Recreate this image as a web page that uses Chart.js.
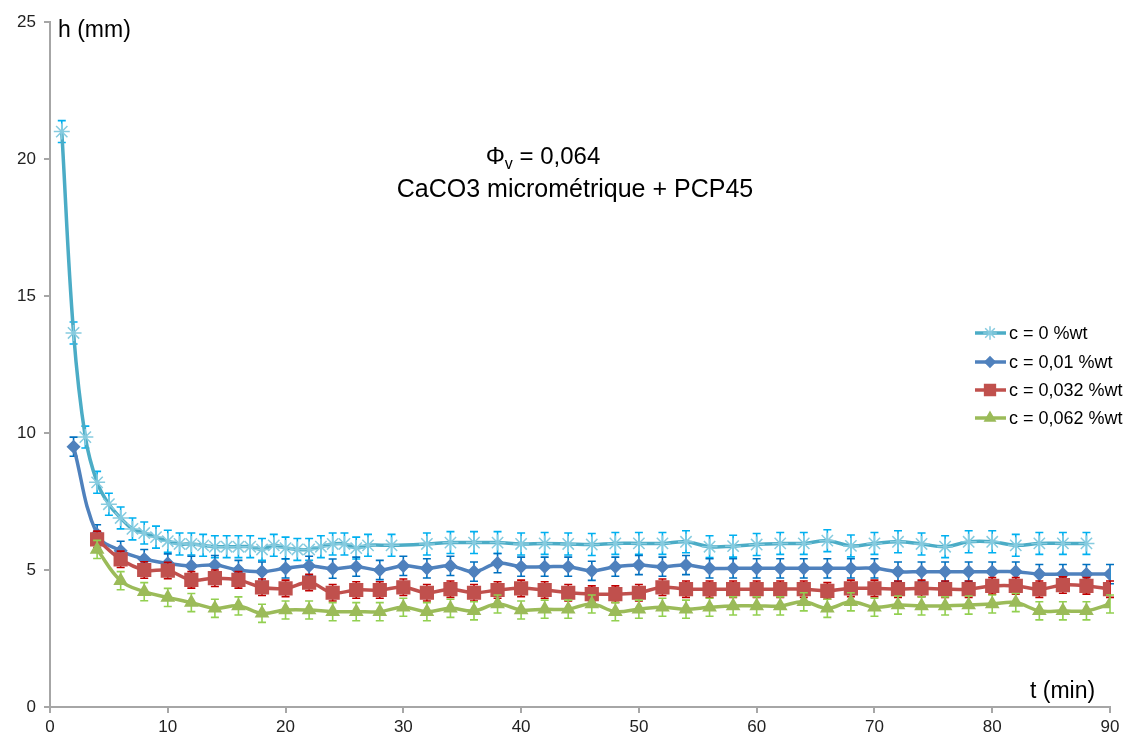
<!DOCTYPE html>
<html>
<head>
<meta charset="utf-8">
<script src="https://cdn.jsdelivr.net/npm/chart.js@4/dist/chart.umd.min.js"></script>
<style>
  html, body { margin: 0; padding: 0; background: #fff; }
  #wrap { width: 1127px; height: 737px; }
</style>
</head>
<body>
<div id="wrap"><canvas id="chart" width="1127" height="737"></canvas></div>
<script>
// time (min) and height (mm) for each series
const tCyan = [1,2,3,4,5,6,7,8,9,10,11,12,13,14,15,16,17,18,19,20,21,22,23,24,25,26,27,29,
  32,34,36,38,40,42,44,46,48,50,52,54,56,58,60,62,64,66,68,70,72,74,76,78,80,82,84,86,88];
const hCyan = [21.0,13.65,9.85,8.2,7.4,6.9,6.5,6.35,6.2,6.05,5.95,5.95,5.9,5.85,5.85,5.85,5.85,5.75,5.9,5.8,5.75,5.75,5.85,5.95,5.95,5.8,5.9,5.9,
  5.95,6.0,6.0,6.0,5.95,5.97,5.95,5.93,5.97,5.97,5.97,6.03,5.85,5.87,5.93,5.97,5.97,6.07,5.88,5.97,6.03,5.95,5.85,6.03,6.03,5.9,5.97,5.97,5.97];

const tBlue = [2,4,6,8,10,12,14,16,18,20,22,24,26,28,30,32,34,36,38,40,42,44,46,48,50,52,54,56,58,60,62,64,66,68,70,72,74,76,78,80,82,84,86,88,90];
const hBlue = [9.5,6.3,5.7,5.4,5.24,5.15,5.18,5.0,4.94,5.06,5.15,5.05,5.12,5.0,5.15,5.06,5.15,4.94,5.25,5.12,5.12,5.12,4.97,5.12,5.18,5.12,5.18,
  5.06,5.06,5.06,5.06,5.06,5.06,5.06,5.06,4.94,4.94,4.94,4.94,4.94,4.94,4.85,4.85,4.85,4.85];

const tRedGreen = [4,6,8,10,12,14,16,18,20,22,24,26,28,30,32,34,36,38,40,42,44,46,48,50,52,54,56,58,60,62,64,66,68,70,72,74,76,78,80,82,84,86,88,90];
const hRed = [6.12,5.39,5.0,4.98,4.64,4.70,4.64,4.37,4.33,4.54,4.17,4.27,4.27,4.37,4.17,4.30,4.17,4.27,
  4.33,4.27,4.17,4.12,4.12,4.17,4.37,4.30,4.30,4.30,4.30,4.30,4.30,4.24,4.33,4.33,4.30,4.33,4.30,4.30,4.42,4.42,4.30,4.45,4.42,4.30];
const hGreen = [5.75,4.61,4.21,4.0,3.81,3.60,3.69,3.42,3.54,3.54,3.48,3.48,3.48,3.64,3.48,3.60,3.51,3.76,
  3.54,3.57,3.57,3.76,3.48,3.57,3.64,3.57,3.64,3.69,3.69,3.69,3.84,3.60,3.84,3.64,3.72,3.69,3.69,3.72,3.76,3.81,3.51,3.51,3.51,3.76];

// error bar half-widths (mm)
const errCyan = 0.4, errBlue = 0.35, errRed = 0.3, errGreen = 0.33;

const labels = ['c = 0 %wt', 'c = 0,01 %wt', 'c = 0,032 %wt', 'c = 0,062 %wt'];
const xTicks = [0, 90, 10];
const yTicks = [0, 25, 5];

const FONT = '"Liberation Sans", Arial, sans-serif';

function pts(t, h) {
  return t.map((v, i) => ({ x: v, y: h[i] }));
}

const series = [
  { label: labels[0], data: pts(tCyan, hCyan), err: errCyan, color: '#4BACC6', errColor: '#00B0F0', markColor: '#86CBDF', style: 'star', r: 8 },
  { label: labels[1], data: pts(tBlue, hBlue), err: errBlue, color: '#4F81BD', errColor: '#0070C0', markColor: '#4F81BD', style: 'rectRot', r: 6 },
  { label: labels[2], data: pts(tRedGreen, hRed), err: errRed, color: '#C0504D', errColor: '#C00000', markColor: '#C0504D', style: 'rect', r: 9 },
  { label: labels[3], data: pts(tRedGreen, hGreen), err: errGreen, color: '#9BBB59', errColor: '#92D050', markColor: '#9BBB59', style: 'triangle', r: 7 }
];

// error bars drawn under each series line
const errorBars = {
  id: 'errorBars',
  beforeDatasetDraw(chart, args) {
    const s = series[args.index];
    const yScale = chart.scales.y;
    const ctx = chart.ctx;
    ctx.save();
    ctx.strokeStyle = s.errColor;
    ctx.lineWidth = 1.6;
    args.meta.data.forEach((p, i) => {
      const v = s.data[i].y;
      const top = yScale.getPixelForValue(v + s.err);
      const bot = yScale.getPixelForValue(v - s.err);
      ctx.beginPath();
      ctx.moveTo(p.x, top); ctx.lineTo(p.x, bot);
      ctx.moveTo(p.x - 4, top); ctx.lineTo(p.x + 4, top);
      ctx.moveTo(p.x - 4, bot); ctx.lineTo(p.x + 4, bot);
      ctx.stroke();
    });
    ctx.restore();
  }
};

// titles, axis names and legend
const annotations = {
  id: 'annotations',
  afterDraw(chart) {
    const ctx = chart.ctx;
    ctx.save();
    ctx.fillStyle = '#000';
    ctx.textBaseline = 'alphabetic';

    // Phi_v line
    const a = 'Φ', b = ' = 0,064';
    ctx.font = '16px ' + FONT;
    const wv = ctx.measureText('v').width;
    ctx.font = '24px ' + FONT;
    const wa = ctx.measureText(a).width, wb = ctx.measureText(b).width;
    let x = 543 - (wa + wv + wb) / 2;
    ctx.textAlign = 'left';
    ctx.fillText(a, x, 164);
    ctx.font = '16px ' + FONT;
    ctx.fillText('v', x + wa, 169);
    ctx.font = '24px ' + FONT;
    ctx.fillText(b, x + wa + wv, 164);

    ctx.font = '25px ' + FONT;
    ctx.textAlign = 'center';
    ctx.fillText('CaCO3 micrométrique + PCP45', 575, 197);

    // axis names
    ctx.font = '23px ' + FONT;
    ctx.textAlign = 'left';
    ctx.fillText('h (mm)', 58, 37);
    ctx.fillText('t (min)', 1030, 698);

    // legend
    ctx.font = '18px ' + FONT;
    ctx.textBaseline = 'middle';
    const rows = [333, 362, 390, 418];
    series.forEach((s, i) => {
      const y = rows[i];
      ctx.strokeStyle = s.color;
      ctx.lineWidth = 3.5;
      ctx.beginPath(); ctx.moveTo(975, y); ctx.lineTo(1006, y); ctx.stroke();
      ctx.fillStyle = s.markColor;
      ctx.strokeStyle = s.markColor;
      ctx.lineWidth = 1.5;
      Chart.helpers.drawPoint(ctx, { pointStyle: s.style, radius: s.r * 0.85, rotation: 0, borderWidth: 1.5 }, 990, y);
      ctx.fillStyle = '#000';
      ctx.fillText(s.label, 1009, y + 1);
    });
    ctx.restore();
  }
};

const axisLine = '#A6A6A6';

new Chart(document.getElementById('chart'), {
  type: 'line',
  data: {
    datasets: series.map((s, i) => ({
      label: s.label,
      data: s.data,
      borderColor: s.color,
      backgroundColor: s.markColor,
      borderWidth: 3.5,
      tension: 0.4,
      pointStyle: s.style,
      pointRadius: s.r,
      pointBorderColor: s.markColor,
      pointBackgroundColor: s.markColor,
      pointBorderWidth: 1.5,
      order: 4 - i
    }))
  },
  options: {
    responsive: false,
    animation: false,
    events: [],
    layout: { padding: { top: 22, right: 17, left: 0, bottom: 0 } },
    plugins: { legend: { display: false }, tooltip: { enabled: false } },
    scales: {
      x: {
        type: 'linear',
        min: xTicks[0], max: xTicks[1],
        ticks: { stepSize: xTicks[2], color: '#222', font: { family: FONT, size: 17 }, padding: 4, maxRotation: 0 },
        grid: { drawOnChartArea: false, drawTicks: true, tickLength: 6, color: axisLine, lineWidth: 2 },
        border: { color: axisLine, width: 2 },
        afterFit(s) { s.height = 30; }
      },
      y: {
        min: yTicks[0], max: yTicks[1],
        ticks: { stepSize: yTicks[2], color: '#222', font: { family: FONT, size: 17 }, padding: 8 },
        grid: { drawOnChartArea: false, drawTicks: true, tickLength: 6, color: axisLine, lineWidth: 2 },
        border: { color: axisLine, width: 2 },
        afterFit(s) { s.width = 50; }
      }
    }
  },
  plugins: [errorBars, annotations]
});
</script>
</body>
</html>
